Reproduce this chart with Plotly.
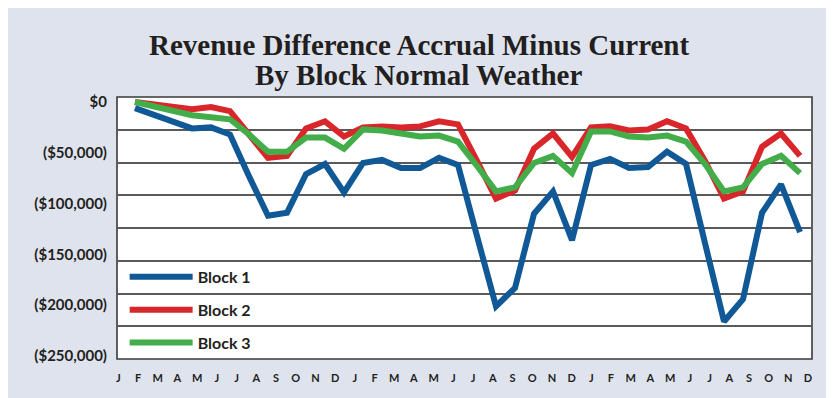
import plotly.graph_objects as go

# ---------------- data ----------------
month_labels = ["J", "F", "M", "A", "M", "J", "J", "A", "S", "O", "N", "D",
                "J", "F", "M", "A", "M", "J", "J", "A", "S", "O", "N", "D",
                "J", "F", "M", "A", "M", "J", "J", "A", "S", "O", "N", "D"]
month_index = list(range(36))

block1 = [-6000, -13000, -20000, -26000, -25000, -32000, -73000, -112000, -109000,
          -71000, -61000, -89000, -60000, -57000, -65000, -65000, -55000, -62000,
          -132000, -201000, -183000, -110000, -88000, -136000, -62000, -56000,
          -65000, -64000, -49000, -61000, -139000, -216000, -194000, -109000,
          -81000, -128000]
block2 = [0, -2000, -5000, -7000, -5000, -9000, -32000, -55000, -53000, -26000,
          -19000, -34000, -25000, -24000, -25000, -24000, -19000, -22000, -58000,
          -95000, -87000, -46000, -31000, -54000, -25000, -24000, -28000, -27000,
          -19000, -26000, -58000, -95000, -88000, -44000, -31000, -53000]
block3 = [0, -4000, -9000, -13000, -15000, -17000, -32000, -49000, -49000, -35000,
          -35000, -46000, -27000, -28000, -31000, -34000, -33000, -39000, -63000,
          -88000, -84000, -60000, -53000, -70000, -29000, -29000, -34000, -35000,
          -33000, -39000, -61000, -88000, -84000, -61000, -53000, -70000]

series_names = ["Block 1", "Block 2", "Block 3"]
series_values = [block1, block2, block3]
series_colors = ["#105896", "#d8262b", "#42ad49"]

y_tick_vals = [0, -50000, -100000, -150000, -200000, -250000]
y_tick_text = ["$0", "($50,000)", "($100,000)", "($150,000)", "($200,000)", "($250,000)"]

title_line1 = "Revenue Difference Accrual Minus Current"
title_line2 = "By Block Normal Weather"

# ---------------- figure ----------------
TEXT = "#231f20"
PANEL = "#dfe3ee"

fig = go.Figure()
for name, vals, col in zip(series_names, series_values, series_colors):
    fig.add_trace(go.Scatter(
        x=month_index, y=vals, name=name, mode="lines",
        line=dict(color=col, width=6),
        legendgroup=name,
    ))

bold = dict(family="Lato", weight="bold", color=TEXT)
title_font = dict(family="Liberation Serif", weight="bold", size=29, color=TEXT)

fig.update_layout(
    width=826, height=390,
    margin=dict(l=109, r=22, t=89, b=39),
    paper_bgcolor=PANEL,
    plot_bgcolor="white",
    showlegend=True,
    legend=dict(
        x=0.011, y=0.378, xanchor="left", yanchor="top",
        bgcolor="rgba(0,0,0,0)",
        font=dict(family="Lato", weight="bold", size=16, color=TEXT),
        tracegroupgap=9,
        itemwidth=63,
    ),
    xaxis=dict(
        range=[-0.947, 35.63], showticklabels=False, showgrid=False,
        zeroline=False, showline=False, ticks="",
    ),
    xaxis2=dict(
        overlaying="x", anchor="y", side="bottom",
        range=[-0.066, 35.2],
        tickmode="array", tickvals=month_index, ticktext=month_labels,
        tickfont=dict(size=11, **bold),
        ticks="outside", ticklen=9, tickcolor="rgba(0,0,0,0)",
        showgrid=False, zeroline=False, showline=False,
    ),
    yaxis=dict(
        range=[-252950, 4920],
        tickmode="array", tickvals=y_tick_vals, ticktext=y_tick_text,
        tickfont=dict(size=15, **bold),
        ticks="outside", ticklen=6, tickcolor="rgba(0,0,0,0)",
        showgrid=False, zeroline=False, showline=False,
    ),
    yaxis2=dict(
        overlaying="y", anchor="x", range=[0, 8], dtick=1, tick0=0,
        showgrid=True, gridcolor="#5a5a5a", gridwidth=1.6,
        showticklabels=False, zeroline=False, showline=False, ticks="",
    ),
    shapes=[
        dict(type="rect", xref="paper", yref="paper",
             x0=0, x1=1, y0=0, y1=1,
             fillcolor="rgba(0,0,0,0)", line=dict(color="#3a3a3a", width=1.6),
             layer="below"),
    ],
    annotations=[
        dict(text=title_line1, xref="paper", yref="paper", x=0.4345, y=1.198,
             xanchor="center", yanchor="middle", showarrow=False, font=title_font),
        dict(text=title_line2, xref="paper", yref="paper", x=0.4345, y=1.084,
             xanchor="center", yanchor="middle", showarrow=False, font=title_font),
    ],
)

# invisible helper trace so the overlay axes (month labels, grid) are drawn
fig.add_trace(go.Scatter(x=month_index, y=[None] * 36, xaxis="x2", yaxis="y2",
                         mode="lines", showlegend=False, hoverinfo="skip"))

fig.write_html("out.html")
